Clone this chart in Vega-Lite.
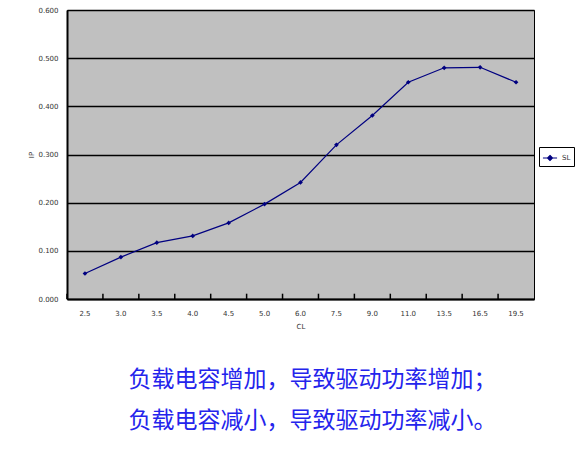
{
  "$schema": "https://vega.github.io/schema/vega-lite/v6.json",
  "width": 467,
  "height": 289,
  "autosize": "none",
  "padding": {"left": 67, "top": 10, "right": 49, "bottom": 154},
  "background": "white",
  "title": {
    "text": ["负载电容增加，导致驱动功率增加；", "负载电容减小，导致驱动功率减小。"],
    "orient": "bottom",
    "anchor": "middle",
    "dx": 12,
    "font": "Noto Sans CJK SC",
    "fontSize": 23,
    "fontWeight": "normal",
    "color": "#2424ec",
    "lineHeight": 41,
    "offset": 40
  },
  "config": {
    "view": {"fill": "#c0c0c0", "stroke": "black", "strokeWidth": 1},
    "axis": {"labelFont": "DejaVu Sans", "labelFontSize": 7, "labelColor": "#333333", "titleFont": "DejaVu Sans", "titleFontSize": 7, "titleFontWeight": "normal", "titleColor": "#333333"}
  },
  "data": {
    "values": [
      {"CL": "2.5", "P": 0.053, "series": "SL"},
      {"CL": "3.0", "P": 0.087, "series": "SL"},
      {"CL": "3.5", "P": 0.117, "series": "SL"},
      {"CL": "4.0", "P": 0.131, "series": "SL"},
      {"CL": "4.5", "P": 0.158, "series": "SL"},
      {"CL": "5.0", "P": 0.197, "series": "SL"},
      {"CL": "6.0", "P": 0.242, "series": "SL"},
      {"CL": "7.5", "P": 0.320, "series": "SL"},
      {"CL": "9.0", "P": 0.381, "series": "SL"},
      {"CL": "11.0", "P": 0.450, "series": "SL"},
      {"CL": "13.5", "P": 0.480, "series": "SL"},
      {"CL": "16.5", "P": 0.481, "series": "SL"},
      {"CL": "19.5", "P": 0.450, "series": "SL"}
    ]
  },
  "encoding": {
    "x": {
      "field": "CL", "type": "ordinal", "sort": null,
      "scale": {"type": "band", "paddingInner": 0, "paddingOuter": 0},
      "axis": {"title": "CL", "labelAngle": 0, "ticks": false, "domainColor": "black", "domainWidth": 2, "labelPadding": 10, "titlePadding": 6, "grid": false}
    }
  },
  "layer": [
    {
      "mark": {"type": "rule", "color": "black", "strokeWidth": 1.5},
      "encoding": {
        "x": {"field": "CL", "type": "ordinal", "sort": null, "bandPosition": 0},
        "y": {"datum": 0, "type": "quantitative"},
        "y2": {"datum": 0.011}
      }
    },
    {
      "mark": {"type": "line", "strokeWidth": 1.2, "point": {"shape": "diamond", "size": 22, "filled": true}},
      "encoding": {
        "x": {"field": "CL", "type": "ordinal", "sort": null, "bandPosition": 0.5},
        "y": {
          "field": "P", "type": "quantitative",
          "scale": {"domain": [0, 0.6], "nice": false},
          "axis": {"title": "IP", "titleAngle": -90, "titlePadding": 3, "values": [0, 0.1, 0.2, 0.3, 0.4, 0.5, 0.6], "format": ".3f", "tickSize": 0, "labelPadding": 9, "domainColor": "black", "domainWidth": 2, "grid": true, "gridColor": "black", "gridWidth": 1.3}
        },
        "color": {
          "field": "series", "type": "nominal",
          "scale": {"range": ["#000080"]},
          "legend": {"title": null, "orient": "none", "legendX": 472, "legendY": 137, "strokeColor": "black", "fillColor": "white", "padding": 3, "labelFont": "DejaVu Sans", "labelFontSize": 7, "labelColor": "#333333", "symbolType": "M-1,0L1,0M0,-0.35L0.35,0L0,0.35L-0.35,0Z", "symbolSize": 200, "symbolStrokeWidth": 1.2, "symbolFillColor": "#000080"}
        }
      }
    }
  ]
}
